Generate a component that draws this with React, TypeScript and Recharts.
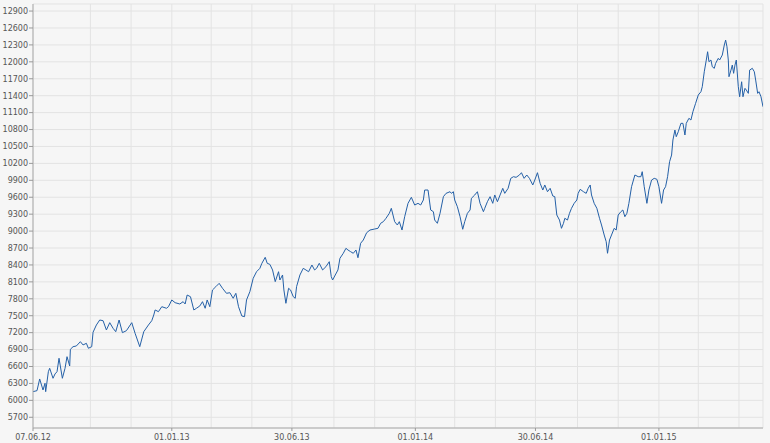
import React from 'react';
import { LineChart, Line, XAxis, YAxis, CartesianGrid } from 'recharts';

// [calendar day since 07.06.12, index value]
const series: [number, number][] = [
  [0, 6154], [6, 6172], [10, 6379], [15, 6184], [18, 6303], [19, 6154], [23, 6508], [25, 6568], [30, 6391], [33, 6468],
  [36, 6508], [39, 6746], [44, 6391], [48, 6568], [51, 6774], [55, 6609], [56, 6905], [60, 6951], [65, 6964], [71, 7040],
  [75, 6982], [80, 7011], [83, 6923], [88, 6951], [90, 7207], [95, 7336], [100, 7424], [105, 7412], [110, 7247], [115, 7377],
  [120, 7277], [124, 7217], [129, 7424], [134, 7200], [140, 7235], [148, 7377], [153, 7189], [160, 6951], [166, 7217], [173, 7336],
  [178, 7412], [181, 7513], [183, 7602], [188, 7572], [193, 7660], [200, 7632], [203, 7660], [208, 7779], [213, 7731], [220, 7708],
  [225, 7749], [228, 7708], [231, 7867], [236, 7837], [241, 7602], [245, 7632], [250, 7673], [254, 7749], [258, 7632], [261, 7779],
  [265, 7660], [269, 7956], [274, 8015], [279, 8074], [284, 7986], [290, 7897], [295, 7908], [300, 7809], [304, 7897], [308, 7660],
  [313, 7495], [317, 7483], [320, 7779], [325, 7926], [330, 8163], [335, 8280], [340, 8340], [343, 8429], [348, 8535], [351, 8429],
  [355, 8410], [359, 8311], [363, 8104], [368, 8280], [370, 8133], [374, 8222], [376, 7956], [379, 7720], [383, 7986], [386, 7956],
  [390, 7838], [393, 7809], [395, 8015], [400, 8222], [405, 8340], [409, 8311], [413, 8280], [418, 8399], [422, 8311], [425, 8340],
  [429, 8429], [434, 8311], [439, 8369], [444, 8458], [447, 8192], [449, 8133], [453, 8222], [457, 8311], [460, 8518], [465, 8607],
  [469, 8695], [472, 8665], [476, 8635], [480, 8607], [484, 8665], [487, 8528], [491, 8784], [495, 8842], [500, 8971], [505, 9019],
  [512, 9037], [517, 9049], [521, 9138], [525, 9167], [529, 9227], [534, 9315], [537, 9404], [542, 9167], [546, 9108], [549, 9167],
  [553, 9019], [557, 9255], [562, 9492], [567, 9599], [572, 9462], [577, 9492], [581, 9462], [585, 9551], [587, 9728], [592, 9728],
  [596, 9374], [600, 9344], [602, 9196], [606, 9138], [610, 9315], [615, 9610], [619, 9669], [625, 9698], [627, 9669], [630, 9698],
  [632, 9551], [636, 9432], [640, 9255], [644, 9032], [647, 9167], [651, 9315], [655, 9374], [657, 9581], [662, 9640], [666, 9698],
  [670, 9492], [675, 9344], [677, 9404], [681, 9521], [685, 9610], [689, 9492], [692, 9640], [696, 9521], [700, 9640], [704, 9758],
  [707, 9669], [712, 9758], [716, 9935], [720, 9964], [724, 9953], [729, 9994], [732, 10035], [736, 9935], [740, 9994], [744, 9935],
  [749, 9817], [752, 9905], [756, 10035], [760, 9847], [764, 9728], [767, 9817], [771, 9698], [775, 9758], [779, 9622], [782, 9610],
  [785, 9285], [789, 9196], [792, 9049], [795, 9138], [797, 9227], [801, 9196], [804, 9315], [807, 9404], [811, 9492], [815, 9551],
  [817, 9669], [820, 9740], [825, 9698], [829, 9669], [832, 9758], [835, 9817], [837, 9640], [841, 9492], [845, 9404], [849, 9227],
  [852, 9108], [856, 8931], [859, 8812], [861, 8607], [864, 8842], [867, 8931], [871, 9049], [874, 9019], [877, 9285], [881, 9344],
  [884, 9374], [887, 9255], [890, 9315], [893, 9492], [897, 9787], [902, 9994], [907, 9964], [911, 9964], [913, 10053], [916, 9787],
  [920, 9492], [923, 9728], [927, 9905], [931, 9935], [935, 9918], [938, 9787], [942, 9492], [945, 9728], [948, 9787], [951, 9964],
  [954, 10230], [957, 10348], [959, 10614], [962, 10791], [964, 10673], [967, 10761], [971, 10910], [974, 10910], [977, 10703], [979, 10910],
  [983, 10999], [986, 10969], [989, 11116], [993, 11264], [997, 11412], [1001, 11470], [1003, 11559], [1006, 11824], [1009, 12032], [1011, 12179],
  [1013, 12002], [1016, 12032], [1018, 11913], [1021, 11885], [1023, 11973], [1027, 12062], [1029, 12032], [1033, 12120], [1036, 12298], [1038, 12386],
  [1040, 12267], [1042, 12032], [1043, 11736], [1046, 11854], [1048, 11943], [1050, 11796], [1052, 11943], [1054, 12032], [1057, 11559], [1059, 11381],
  [1062, 11647], [1064, 11381], [1067, 11530], [1069, 11500], [1072, 11441], [1074, 11854], [1078, 11885], [1081, 11824], [1083, 11677], [1086, 11441],
  [1088, 11470], [1091, 11381], [1094, 11204],
];

const yTicks = [5700, 6000, 6300, 6600, 6900, 7200, 7500, 7800, 8100, 8400, 8700, 9000, 9300, 9600, 9900, 10200, 10500, 10800, 11100, 11400, 11700, 12000, 12300, 12600, 12900];

const labelDates = ['07.06.12', '01.01.13', '30.06.13', '01.01.14', '30.06.14', '01.01.15'];
const gridDates = ['01.09.12', '01.11.12', '01.01.13', '01.03.13', '01.05.13', '30.06.13', '01.09.13', '01.11.13', '01.01.14', '01.03.14', '01.05.14', '30.06.14', '01.09.14', '01.11.14', '01.01.15', '01.03.15', '01.05.15'];

const START = Date.UTC(2012, 5, 7);
const dayOf = (s: string) => {
  const [d, m, y] = s.split('.').map(Number);
  return Math.round((Date.UTC(2000 + y, m - 1, d) - START) / 86400000);
};

const labelMap: Record<number, string> = {};
labelDates.forEach((s) => { labelMap[dayOf(s)] = s; });
const xTicks = Array.from(new Set([...labelDates, ...gridDates].map(dayOf))).sort((a, b) => a - b);

const data = series.map(([day, value]) => ({ day, value }));

const FONT = '"DejaVu Sans", Verdana, sans-serif';

const XTick = (props: any) => {
  const { x, y, payload } = props;
  const label = labelMap[payload.value];
  if (!label) return null;
  return (
    <g>
      <line x1={x} x2={x} y1={y - 5} y2={y - 2} stroke="#999" />
      <text x={x} y={y + 7} textAnchor="middle" fontSize={8} fontFamily={FONT} fill="#555">
        {label}
      </text>
    </g>
  );
};

export default function App() {
  return (
    <div style={{ position: 'absolute', left: 0, top: 0, width: 770, height: 443, background: '#f6f6f6' }}>
      <LineChart width={770} height={443} data={data} margin={{ top: 4, right: 7, bottom: 0, left: 0 }}>
        <CartesianGrid stroke="#e3e3e3" />
        <XAxis
          dataKey="day"
          type="number"
          domain={[0, 1094]}
          ticks={xTicks}
          interval={0}
          height={15}
          tickLine={false}
          tickSize={3}
          tickMargin={2}
          tick={<XTick />}
          axisLine={{ stroke: '#aaa' }}
          allowDataOverflow
        />
        <YAxis
          type="number"
          domain={[5510, 13025]}
          ticks={yTicks}
          interval={0}
          width={33}
          tickSize={4}
          tickMargin={1}
          axisLine={{ stroke: '#aaa' }}
          tickLine={{ stroke: '#999' }}
          tick={{ fontSize: 8, fontFamily: FONT, fill: '#555' }}
          allowDataOverflow
        />
        <Line
          type="linear"
          dataKey="value"
          stroke="#2460a7"
          strokeWidth={1}
          dot={false}
          isAnimationActive={false}
        />
      </LineChart>
    </div>
  );
}
